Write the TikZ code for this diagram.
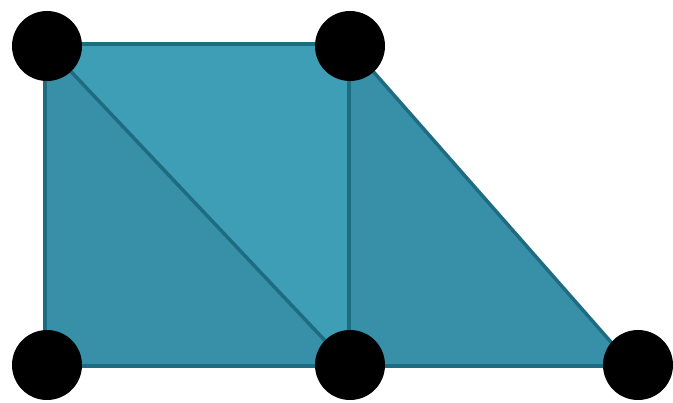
\documentclass[tikz,border=0pt]{standalone}
\definecolor{tealdark}{HTML}{3790A8}
\definecolor{teallight}{HTML}{3E9EB6}
\definecolor{edgecol}{HTML}{1E6C82}
\tikzset{
  vertex/.style={circle, fill=black, inner sep=0pt, minimum size=70pt},
  edge/.style={draw=edgecol, line width=3.5pt, line join=round},
}
\begin{document}
\begin{tikzpicture}[x=1pt,y=-1pt]
\useasboundingbox (0,0) rectangle (673,403);
\coordinate (pA) at (45,44);
\coordinate (pB) at (349,44);
\coordinate (pC) at (45,366);
\coordinate (pD) at (349,366);
\coordinate (pE) at (632,366);
\fill[tealdark] (pA) -- (pC) -- (pD) -- cycle;
\fill[teallight] (pA) -- (pB) -- (pD) -- cycle;
\fill[tealdark] (pB) -- (pD) -- (pE) -- cycle;
\draw[edge] (pA) -- (pB);
\draw[edge] (pA) -- (pC);
\draw[edge] (pC) -- (pD);
\draw[edge] (pD) -- (pE);
\draw[edge] (pA) -- (pD);
\draw[edge] (pB) -- (pD);
\draw[edge] (pB) -- (pE);
\node[vertex] (a) at (47,46) {};
\node[vertex] (b) at (350,46) {};
\node[vertex] (c) at (47,365) {};
\node[vertex] (d) at (350,365) {};
\node[vertex] (e) at (638,365) {};
\end{tikzpicture}
\end{document}
